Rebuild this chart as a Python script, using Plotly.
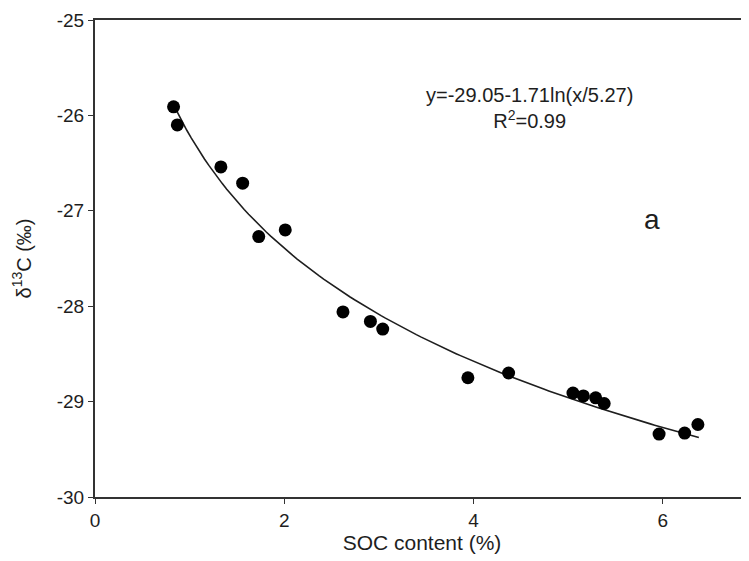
import numpy as np
import plotly.graph_objects as go

# measured points: SOC content (%) vs delta13C (per mil)
soc = [0.83, 0.87, 1.33, 1.56, 1.73, 2.01, 2.62, 2.91, 3.04, 3.94, 4.37,
       5.05, 5.16, 5.29, 5.38, 5.96, 6.23, 6.37]
d13c = [-25.91, -26.10, -26.54, -26.71, -27.27, -27.20, -28.06, -28.16, -28.24,
        -28.75, -28.70, -28.91, -28.94, -28.96, -29.02, -29.34, -29.33, -29.24]

x_ticks = [0, 2, 4, 6]
y_ticks = [-30, -29, -28, -27, -26, -25]

# fitted curve as printed on the chart: y = a - b*ln(x/c)
fit_a, fit_b, fit_c = -29.05, 1.71, 5.27
fit_x = np.linspace(0.83, 6.38, 120)
fit_y = fit_a - fit_b * np.log(fit_x / fit_c)

ink = "#1e1e1e"
font = "Liberation Sans, Arial, sans-serif"

fig = go.Figure()
fig.add_trace(go.Scatter(x=fit_x, y=fit_y, mode="lines",
                         line=dict(color=ink, width=1.6), hoverinfo="skip"))
fig.add_trace(go.Scatter(x=soc, y=d13c, mode="markers",
                         marker=dict(color="black", size=13)))

fig.add_annotation(x=0.665, y=0.816, xref="paper", yref="paper", yanchor="middle",
                   text="y=-29.05-1.71ln(x/5.27)<br>R<sup>2</sup>=0.99",
                   showarrow=False, align="center",
                   font=dict(family=font, size=20, color=ink))
fig.add_annotation(x=0.867, y=0.581, xref="paper", yref="paper", yanchor="middle",
                   text="a", showarrow=False,
                   font=dict(family=font, size=28, color=ink))

# page body has an 8px margin, so the figure is a bit smaller than the window
fig.update_layout(
    width=741, height=553,
    margin=dict(l=87, r=0, t=12, b=64),
    paper_bgcolor="white", plot_bgcolor="white",
    showlegend=False,
    font=dict(family=font, size=19, color=ink),
    xaxis=dict(range=[0, 6.91], tickvals=x_ticks, ticktext=[str(v) for v in x_ticks],
               showgrid=False, zeroline=False,
               showline=True, linecolor="#333", linewidth=2, mirror=True,
               ticks="outside", ticklen=5, tickcolor="#333",
               title=dict(text="SOC content (%)", standoff=2, font=dict(size=21))),
    yaxis=dict(range=[-30, -25], tickvals=y_ticks, ticktext=[str(v) for v in y_ticks],
               showgrid=False, zeroline=False,
               showline=True, linecolor="#333", linewidth=2,
               ticks="outside", ticklen=5, tickcolor="#333",
               title=dict(text="δ<sup>13</sup>C (‰)", standoff=20, font=dict(size=20))),
)

fig.write_html("out.html")
